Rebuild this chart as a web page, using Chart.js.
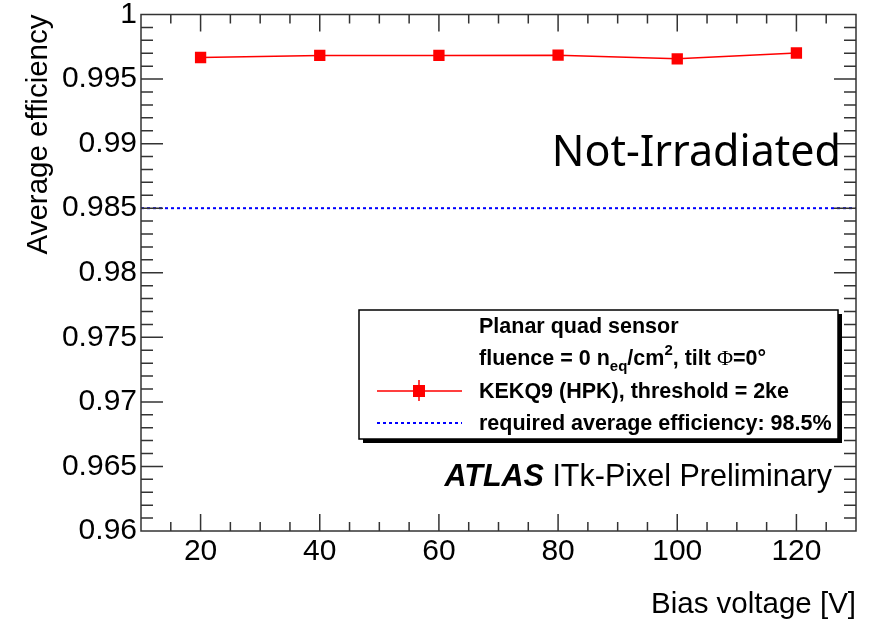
<!DOCTYPE html>
<html>
<head>
<meta charset="utf-8">
<script src="https://cdn.jsdelivr.net/npm/chart.js@4.4.0/dist/chart.umd.min.js"></script>
<style>
  body { margin: 0; background: #fff; }
  #wrap { width: 869px; height: 621px; }
</style>
</head>
<body>
<div id="wrap"><canvas id="eff_chart" width="869" height="621"></canvas></div>
<script>
// data
const voltages = [20, 40, 60, 80, 100, 120];
const efficiency = [0.99667, 0.99683, 0.99683, 0.99685, 0.99657, 0.99702];
const requiredEff = 0.985;
const xRange = [10, 130];
const xTickValues = [20, 40, 60, 80, 100, 120];
const yTickValues = [0.96, 0.965, 0.97, 0.975, 0.98, 0.985, 0.99, 0.995, 1];

Chart.defaults.font.family = "'Liberation Sans', Arial, sans-serif";
Chart.defaults.color = '#000';

// ROOT style frame with inner ticks on all four sides
const rootFrame = {
  id: 'rootFrame',
  afterDatasetsDraw(chart) {
    const { ctx, chartArea: a, scales: { x, y } } = chart;
    ctx.save();
    ctx.strokeStyle = '#333';
    ctx.lineWidth = 1.5;
    ctx.beginPath();
    for (let v = xRange[0] + 5; v < xRange[1]; v += 5) {
      const px = x.getPixelForValue(v);
      const len = v % 20 === 0 ? 17 : 9;
      ctx.moveTo(px, a.bottom); ctx.lineTo(px, a.bottom - len);
      ctx.moveTo(px, a.top); ctx.lineTo(px, a.top + len);
    }
    for (let i = 1; i < 40; i++) {
      const py = y.getPixelForValue(0.96 + i * 0.001);
      const len = i % 5 === 0 ? 22 : 12;
      ctx.moveTo(a.left, py); ctx.lineTo(a.left + len, py);
      ctx.moveTo(a.right, py); ctx.lineTo(a.right - len, py);
    }
    ctx.stroke();
    ctx.strokeRect(a.left, a.top, a.right - a.left, a.bottom - a.top);
    ctx.restore();
  }
};

// legend box + labels
const rootLegend = {
  id: 'rootLegend',
  afterDraw(chart) {
    const ctx = chart.ctx;
    ctx.save();
    // box with shadow
    ctx.fillStyle = '#000';
    ctx.fillRect(363, 314, 479, 129);
    ctx.fillStyle = '#fff';
    ctx.fillRect(359, 310, 479, 129);
    ctx.strokeStyle = '#000';
    ctx.lineWidth = 1.5;
    ctx.strokeRect(359, 310, 479, 129);

    const tx = 479;
    const bold = "bold 21.5px 'Liberation Sans', Arial, sans-serif";
    const small = "bold 15px 'Liberation Sans', Arial, sans-serif";
    ctx.fillStyle = '#000';
    ctx.textBaseline = 'alphabetic';
    ctx.textAlign = 'left';

    ctx.font = bold;
    ctx.fillText('Planar quad sensor', tx, 333);

    // fluence line with sub/superscripts
    let cx = tx;
    const base = 365;
    const piece = (t, f, dy) => {
      ctx.font = f;
      ctx.fillText(t, cx, base + dy);
      cx += ctx.measureText(t).width;
    };
    piece('fluence = 0 n', bold, 0);
    piece('eq', small, 6);
    piece('/cm', bold, 0);
    piece('2', small, -10);
    piece(', tilt ', bold, 0);
    piece('\u03A6', "22px 'Liberation Serif', 'DejaVu Serif', serif", 0);
    piece('=0\u00B0', bold, 0);

    ctx.font = bold;
    ctx.fillText('KEKQ9 (HPK), threshold = 2ke', tx, 398);
    ctx.fillText('required average efficiency: 98.5%', tx, 430);

    // marker sample
    ctx.strokeStyle = '#ff0000';
    ctx.lineWidth = 1.5;
    ctx.beginPath();
    ctx.moveTo(377, 391); ctx.lineTo(462, 391);
    ctx.moveTo(419, 380); ctx.lineTo(419, 401);
    ctx.stroke();
    ctx.fillStyle = '#ff0000';
    ctx.fillRect(413, 385, 12, 12);

    // dotted sample
    ctx.strokeStyle = '#0000ff';
    ctx.lineWidth = 2;
    ctx.setLineDash([3, 3]);
    ctx.beginPath();
    ctx.moveTo(377, 423); ctx.lineTo(462, 423);
    ctx.stroke();
    ctx.setLineDash([]);

    // ATLAS label
    ctx.fillStyle = '#000';
    ctx.textAlign = 'right';
    ctx.font = "30.5px 'Liberation Sans', Arial, sans-serif";
    const rest = ' ITk-Pixel Preliminary';
    const rw = ctx.measureText(rest).width;
    ctx.fillText(rest, 832, 486);
    ctx.font = "italic bold 30.5px 'Liberation Sans', Arial, sans-serif";
    ctx.fillText('ATLAS', 832 - rw, 486);

    // Not-Irradiated
    ctx.font = "43px 'Noto Sans', 'Open Sans', sans-serif";
    ctx.fillText('Not-Irradiated', 841, 166);
    ctx.restore();
  }
};

const ctx = document.getElementById('eff_chart').getContext('2d');
const eff_chart = new Chart(ctx, {
  type: 'scatter',
  data: {
    datasets: [{
      label: 'KEKQ9 (HPK), threshold = 2ke',
      data: voltages.map((v, i) => ({ x: v, y: efficiency[i] })),
      showLine: true,
      borderColor: '#ff0000',
      borderWidth: 1.5,
      backgroundColor: '#ff0000',
      pointStyle: 'rect',
      pointRadius: 8,
      pointBorderWidth: 0,
      pointHoverRadius: 8
    }, {
      label: 'required average efficiency: 98.5%',
      data: xRange.map(x => ({ x: x, y: requiredEff })),
      showLine: true,
      borderColor: '#0000ff',
      borderWidth: 2,
      borderDash: [3, 3],
      pointRadius: 0
    }]
  },
  options: {
    responsive: false,
    animation: false,
    layout: { padding: { top: 14.5, right: 13, left: 0, bottom: 0 } },
    plugins: { legend: { display: false }, tooltip: { enabled: false } },
    scales: {
      x: {
        type: 'linear',
        min: xRange[0],
        max: xRange[1],
        afterBuildTicks: s => { s.ticks = xTickValues.map(v => ({ value: v })); },
        afterFit: s => { s.height = 90; },
        grid: { display: false, drawTicks: false },
        border: { display: false },
        ticks: { font: { size: 30 }, padding: 3, maxRotation: 0 },
        title: {
          display: true,
          text: 'Bias voltage [V]',
          align: 'end',
          font: { size: 29.5, lineHeight: 1 },
          padding: { top: 0, bottom: 1 }
        }
      },
      y: {
        min: 0.96,
        max: 1,
        afterBuildTicks: s => { s.ticks = yTickValues.map(v => ({ value: v })); },
        afterFit: s => { s.width = 141; },
        grid: { display: false, drawTicks: false },
        border: { display: false },
        ticks: {
          font: { size: 30, lineHeight: 0.5 },
          padding: 4,
          callback: v => String(parseFloat(v.toFixed(3)))
        },
        title: {
          display: true,
          text: 'Average efficiency',
          align: 'end',
          font: { size: 29.5 },
          padding: { top: 21, bottom: 0 }
        }
      }
    }
  },
  plugins: [rootFrame, rootLegend]
});
</script>
</body>
</html>
